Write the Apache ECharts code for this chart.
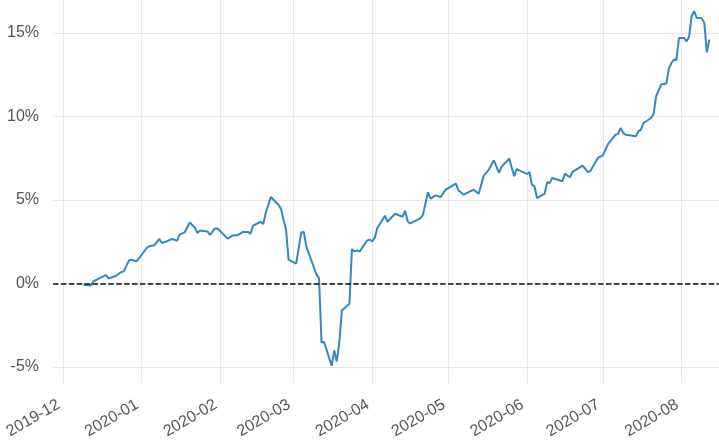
<!DOCTYPE html>
<html>
<head>
<meta charset="utf-8">
<script src="https://cdn.jsdelivr.net/npm/echarts@6/dist/echarts.min.js"></script>
<style>
html,body{margin:0;padding:0;background:#fff;}
#chart{width:719px;height:447px;}
</style>
</head>
<body>
<div id="chart"></div>
<script>
const dates = [
 '2019-12-09','2019-12-12','2019-12-13','2019-12-16','2019-12-18','2019-12-19','2019-12-22','2019-12-24','2019-12-25','2019-12-27','2019-12-28','2019-12-30',
 '2020-01-01','2020-01-03','2020-01-04','2020-01-06','2020-01-08','2020-01-09','2020-01-11','2020-01-13','2020-01-15','2020-01-16','2020-01-18','2020-01-20','2020-01-22','2020-01-23','2020-01-24','2020-01-27','2020-01-28','2020-01-30','2020-01-31',
 '2020-02-04','2020-02-06','2020-02-08','2020-02-10','2020-02-12','2020-02-13','2020-02-14','2020-02-17','2020-02-18','2020-02-19','2020-02-21','2020-02-24','2020-02-25','2020-02-26','2020-02-27','2020-02-28',
 '2020-03-02','2020-03-04','2020-03-05','2020-03-06','2020-03-10','2020-03-11','2020-03-12','2020-03-13','2020-03-16','2020-03-17','2020-03-18','2020-03-19','2020-03-20','2020-03-23','2020-03-24','2020-03-25','2020-03-26','2020-03-27','2020-03-30','2020-03-31',
 '2020-04-01','2020-04-02','2020-04-03','2020-04-06','2020-04-07','2020-04-10','2020-04-13','2020-04-14','2020-04-15','2020-04-16','2020-04-20','2020-04-21','2020-04-23','2020-04-24','2020-04-26','2020-04-28','2020-04-30',
 '2020-05-04','2020-05-05','2020-05-07','2020-05-11','2020-05-13','2020-05-15','2020-05-17','2020-05-19','2020-05-21','2020-05-22','2020-05-25','2020-05-27','2020-05-28','2020-05-29',
 '2020-06-01','2020-06-02','2020-06-03','2020-06-04','2020-06-05','2020-06-08','2020-06-09','2020-06-10','2020-06-11','2020-06-15','2020-06-16','2020-06-18','2020-06-19','2020-06-23','2020-06-25','2020-06-26','2020-06-29',
 '2020-07-01','2020-07-03','2020-07-06','2020-07-07','2020-07-08','2020-07-09','2020-07-10','2020-07-14','2020-07-15','2020-07-16','2020-07-17','2020-07-20','2020-07-21','2020-07-22','2020-07-24','2020-07-26','2020-07-27','2020-07-28','2020-07-29','2020-07-30','2020-07-31',
 '2020-08-02','2020-08-03','2020-08-04','2020-08-05','2020-08-06','2020-08-07','2020-08-08','2020-08-09','2020-08-10','2020-08-11','2020-08-12'
];
const values = [
 -0.08,-0.12,0.12,0.36,0.50,0.30,0.46,0.68,0.72,1.36,1.42,1.32,
 1.70,2.12,2.22,2.28,2.66,2.42,2.52,2.66,2.56,2.92,3.05,3.65,3.35,3.02,3.17,3.11,2.90,3.29,3.29,
 2.68,2.87,2.89,3.08,3.08,2.98,3.46,3.69,3.56,4.22,5.17,4.71,4.46,3.81,3.22,1.42,
 1.18,3.05,3.08,2.22,0.52,0.32,-3.53,-3.51,-4.93,-4.01,-4.67,-3.57,-1.62,-1.22,2.06,1.92,1.98,1.90,2.57,2.62,
 2.52,2.72,3.32,4.05,3.69,4.17,3.99,4.35,3.71,3.59,3.89,4.11,5.45,5.07,5.27,5.17,5.61,
 5.97,5.57,5.31,5.61,5.37,6.45,6.81,7.37,6.61,6.97,7.47,6.41,6.85,6.77,
 6.55,6.67,5.91,5.81,5.11,5.37,6.05,6.01,6.31,6.11,6.57,6.35,6.67,7.05,6.67,6.71,7.51,
 7.66,8.34,8.90,8.95,9.31,9.01,8.90,8.80,9.10,9.20,9.60,9.90,10.16,11.20,11.90,11.96,12.84,13.19,13.40,13.35,14.69,
 14.69,14.49,14.75,15.99,16.29,15.89,15.89,15.85,15.59,13.83,14.59
];
const yTicks = [-5, 0, 5, 10, 15];
const monthTicks = ['2019-12-01','2020-01-01','2020-02-01','2020-03-01','2020-04-01','2020-05-01','2020-06-01','2020-07-01','2020-08-01'];

// x positions are days since 2019-12-01, computed from the date strings
function dayNum(s){ const p = s.split('-').map(Number); return Math.round((Date.UTC(p[0], p[1]-1, p[2]) - Date.UTC(2019, 11, 1)) / 864e5); }
const monthDays = monthTicks.map(dayNum);
const lineData = dates.map((d, i) => [dayNum(d), values[i]]);
const font = 'Liberation Sans, Arial, sans-serif';

const chart = echarts.init(document.getElementById('chart'), null, {renderer: 'canvas'});
chart.setOption({
  animation: false,
  backgroundColor: '#ffffff',
  grid: {left: 53, right: 0, top: 0, bottom: 64, containLabel: false},
  xAxis: {
    type: 'value', min: -3.94, max: 258.8,
    axisLine: {show: false}, axisTick: {show: false}, splitLine: {show: false},
    axisLabel: {
      customValues: monthDays,
      formatter: function (v) { const i = monthDays.indexOf(Math.round(v)); return i >= 0 ? monthTicks[i].slice(0, 7) : ''; },
      rotate: 30, margin: 18, padding: [0, 5, 0, 0],
      fontSize: 16, color: '#555555', fontFamily: font
    }
  },
  yAxis: {
    type: 'value', min: -5.96, max: 16.96,
    axisLine: {show: false}, axisTick: {show: false}, splitLine: {show: false},
    axisLabel: {
      customValues: yTicks,
      formatter: function (v) { return v + '%'; },
      margin: 14, fontSize: 16, color: '#555555', fontFamily: font
    }
  },
  series: [
    {
      type: 'line', data: [], z: 1, silent: true,
      markLine: {
        silent: true, symbol: 'none', z: 1, label: {show: false},
        lineStyle: {color: '#e6e6e6', width: 1, type: 'solid'},
        emphasis: {disabled: true},
        data: yTicks.map(v => ({yAxis: v})).concat(monthDays.map(t => ({xAxis: t})))
      }
    },
    {
      type: 'line', data: lineData, z: 3, showSymbol: false, silent: true,
      lineStyle: {color: '#3189c2', width: 2},
      itemStyle: {color: '#3189c2'}
    },
    {
      type: 'line', data: [], z: 5, silent: true,
      markLine: {
        silent: true, symbol: 'none', z: 5, label: {show: false},
        emphasis: {disabled: true},
        lineStyle: {color: '#111111', width: 1.5, type: [5.5, 2.4]},
        data: [{yAxis: 0}]
      }
    }
  ]
});
</script>
</body>
</html>
